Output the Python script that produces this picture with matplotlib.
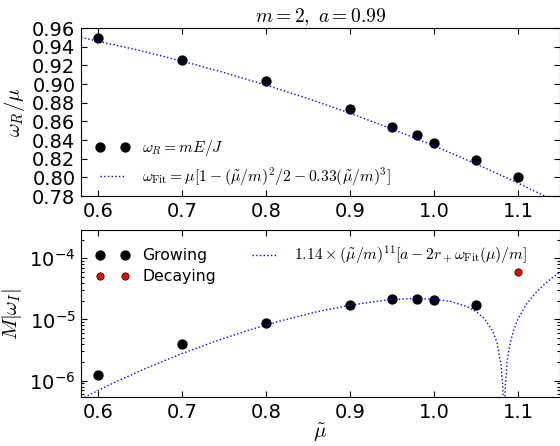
import matplotlib
matplotlib.use("Agg")
import matplotlib.pyplot as plt

plt.rcParams["mathtext.fontset"] = "cm"
plt.rcParams["axes.unicode_minus"] = False
plt.rcParams["font.family"] = "DejaVu Sans"

# measured points, m=2, a=0.99
mu = [0.6, 0.7, 0.8, 0.9, 0.95, 0.98, 1.0, 1.05, 1.1]
omega_r = [0.949, 0.926, 0.9035, 0.873, 0.854, 0.845, 0.837, 0.819, 0.800]

mu_grow = [0.6, 0.7, 0.8, 0.9, 0.95, 0.98, 1.0, 1.05]
omega_i_grow = [1.23e-6, 3.92e-6, 8.7e-6, 1.72e-5, 2.12e-5, 2.18e-5, 2.1e-5, 1.71e-5]
mu_decay = [1.1]
omega_i_decay = [5.94e-5]

# dotted fit curves
mu_fit_r = [0.58, 0.65, 0.70, 0.75, 0.80, 0.85, 0.90, 0.95, 1.00, 1.05, 1.10, 1.15]
omega_fit_r = [0.9499, 0.9359, 0.9246, 0.9123, 0.8989, 0.8844, 0.8687, 0.8518,
               0.8338, 0.8144, 0.7939, 0.7720]

mu_fit_i = [0.58, 0.62, 0.66, 0.70, 0.74, 0.78, 0.82, 0.86, 0.90, 0.94, 0.97, 1.00,
            1.02, 1.04, 1.05, 1.06, 1.07, 1.075, 1.08, 1.082, 1.083, 1.084, 1.085,
            1.087, 1.09, 1.095, 1.10, 1.11, 1.12, 1.13, 1.14, 1.15]
omega_fit_i = [5.03e-7, 9.37e-7, 1.65e-6, 2.77e-6, 4.41e-6, 6.70e-6, 9.68e-6, 1.33e-5,
               1.71e-5, 2.05e-5, 2.19e-5, 2.15e-5, 1.97e-5, 1.61e-5, 1.35e-5, 1.03e-5,
               6.43e-6, 4.20e-6, 1.77e-6, 7.35e-7, 2.06e-7, 3.31e-7, 8.78e-7, 2.00e-6,
               3.74e-6, 6.85e-6, 1.02e-5, 1.77e-5, 2.62e-5, 3.60e-5, 4.71e-5, 5.95e-5]

x_ticks = [0.6, 0.7, 0.8, 0.9, 1.0, 1.1]
y_ticks_top = [0.78, 0.80, 0.82, 0.84, 0.86, 0.88, 0.90, 0.92, 0.94, 0.96]

fig = plt.figure(figsize=(5.6, 4.46), dpi=100)
ax1 = fig.add_axes([81 / 560, 1 - 196 / 446, 479 / 560, 168 / 446])
ax2 = fig.add_axes([81 / 560, 1 - 397 / 446, 479 / 560, 167 / 446])

# top panel: real part
ax1.plot(mu, omega_r, "o", color="k", ms=6.4, mec="k", label=r"$\omega_R = mE/J$")
ax1.plot(mu_fit_r, omega_fit_r, ":", color="b", lw=1,
         label=r"$\omega_{\rm Fit} = \mu[1-(\tilde{\mu}/m)^2/2-0.33(\tilde{\mu}/m)^3]$")
ax1.set_xlim(0.58, 1.15)
ax1.set_ylim(0.78, 0.96)
ax1.set_xticks(x_ticks)
ax1.set_yticks(y_ticks_top)
ax1.set_ylabel(r"$\omega_R/\mu$", fontsize=15)
ax1.set_title(r"$m=2,\ a=0.99$", fontsize=14, pad=4)
ax1.legend(loc="lower left", bbox_to_anchor=(0.0, -0.035), frameon=False, numpoints=2,
           fontsize=11.3, handlelength=2.2, handletextpad=0.8, labelspacing=0.45)

# bottom panel: imaginary part
ax2.plot(mu_grow, omega_i_grow, "o", color="k", ms=6.4, mec="k", label="Growing")
ax2.plot(mu_decay, omega_i_decay, "o", color="r", ms=5.3, mec="k", mew=0.5, label="Decaying")
ax2.plot(mu_fit_i, omega_fit_i, ":", color="b", lw=1,
         label=r"$1.14\times(\tilde{\mu}/m)^{11}[a-2r_+\omega_{\rm Fit}(\mu)/m]$")
ax2.set_yscale("log")
ax2.set_xlim(0.58, 1.15)
ax2.set_ylim(5.4e-7, 2.9e-4)
ax2.set_xticks(x_ticks)
ax2.set_ylabel(r"$M|\omega_I|$", fontsize=15)
ax2.set_xlabel(r"$\tilde{\mu}$", fontsize=15, labelpad=0)
ax2.legend(loc="upper left", frameon=False, numpoints=2, ncol=2, fontsize=11.3,
           handlelength=2.2, handletextpad=0.8, labelspacing=0.4, columnspacing=2.0)

for ax in (ax1, ax2):
    ax.tick_params(which="both", direction="in", top=True, right=True, labelsize=14, width=0.8)
    ax.tick_params(which="major", length=4, pad=4)
    ax.tick_params(which="minor", length=2)
    for s in ax.spines.values():
        s.set_linewidth(0.8)

fig.savefig("out.png", dpi=100)
